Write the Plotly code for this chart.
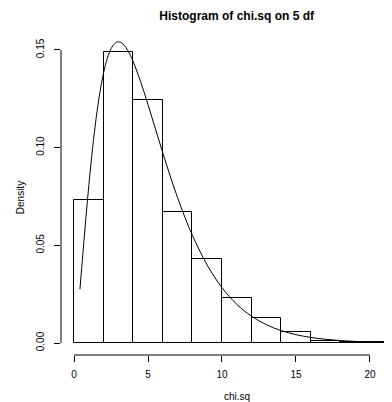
import plotly.graph_objects as go

# Histogram bins (breaks of width 2) and densities
bin_left = [0, 2, 4, 6, 8, 10, 12, 14, 16, 18, 20]
bin_width = 2
density = [0.0730, 0.1491, 0.1244, 0.0669, 0.0428, 0.0229, 0.0128, 0.0058, 0.0010, 0.0005, 0.0005]

# Overlaid chi-square (5 df) density curve
curve_x = [0.4, 0.6, 0.8, 1.0, 1.25, 1.5, 1.75, 2.0, 2.25, 2.5, 2.75, 3.0, 3.25, 3.5, 3.75,
           4.0, 4.5, 5.0, 5.5, 6.0, 6.5, 7.0, 7.5, 8.0, 9.0, 10.0, 11.0, 12.0, 13.0, 14.0,
           15.0, 16.0, 17.0, 18.0, 19.0, 20.0, 22.0]
curve_y = [0.02754, 0.04579, 0.06378, 0.08066, 0.09948, 0.11540, 0.12833, 0.13837, 0.14571,
           0.15060, 0.15334, 0.15418, 0.15342, 0.15131, 0.14809, 0.14398, 0.13380, 0.12204,
           0.10965, 0.09730, 0.08545, 0.07437, 0.06424, 0.05511, 0.03989, 0.02834, 0.01983,
           0.01370, 0.00937, 0.00635, 0.00427, 0.00286, 0.00190, 0.00125, 0.00082, 0.00054,
           0.00023]

x_ticks = [0, 5, 10, 15, 20]
y_ticks = [0.00, 0.05, 0.10, 0.15]
y_tick_labels = ["0.00", "0.05", "0.10", "0.15"]

title_text = "Histogram of chi.sq on 5 df"
x_title = "chi.sq"
y_title = "Density"

FONT = "Liberation Sans, Arial, sans-serif"

# The page body has an 8px margin, so the figure is 8px smaller each way
W, H = 384, 394
bin_centers = [b + bin_width / 2 for b in bin_left]

fig = go.Figure()
fig.add_trace(go.Bar(
    x=bin_centers, y=density, width=[bin_width] * len(bin_left),
    marker=dict(color="white", line=dict(color="black", width=1)),
    hoverinfo="skip",
))
fig.add_trace(go.Scatter(
    x=curve_x, y=curve_y, mode="lines", line=dict(color="black", width=1, shape="spline"),
    hoverinfo="skip",
))

fig.update_layout(
    width=W, height=H,
    margin=dict(l=53, r=0, t=32, b=47),
    paper_bgcolor="white", plot_bgcolor="white",
    showlegend=False, bargap=0,
    font=dict(family=FONT, size=10, color="black"),
    title=dict(text="<b>" + title_text + "</b>", x=228.7 / W, xanchor="center",
               xref="container", y=1 - 7.7 / H, yanchor="middle", yref="container",
               font=dict(family=FONT, size=12, color="black")),
    xaxis=dict(range=[-0.88, 21.49], tickvals=x_ticks, ticks="outside", ticklen=6,
               tickcolor="black", showgrid=False, zeroline=False, showline=False,
               automargin=False, ticklabelstandoff=4, tickfont=dict(size=10, color="black")),
    yaxis=dict(range=[-0.00614, 0.1551], tickvals=y_ticks, ticktext=y_tick_labels,
               ticks="outside", ticklen=6, tickcolor="black", showgrid=False,
               zeroline=False, showline=False, tickangle=-90, ticklabelstandoff=6,
               automargin=False, tickfont=dict(size=10, color="black")),
    shapes=[
        dict(type="line", xref="x", yref="paper", x0=x_ticks[0], x1=x_ticks[-1], y0=0, y1=0,
             line=dict(color="black", width=1)),
        dict(type="line", xref="paper", yref="y", x0=0, x1=0, y0=y_ticks[0], y1=y_ticks[-1],
             line=dict(color="black", width=1)),
    ],
    annotations=[
        dict(text=x_title, xref="paper", yref="paper", x=(236.7 - 61) / 331, y=-41 / 315,
             xanchor="center", yanchor="middle", showarrow=False,
             font=dict(family=FONT, size=10, color="black")),
        dict(text=y_title, xref="paper", yref="paper", x=-40.3 / 331, y=0.5, textangle=-90,
             xanchor="center", yanchor="middle", showarrow=False,
             font=dict(family=FONT, size=10, color="black")),
    ],
)

fig.write_html("out.html")
